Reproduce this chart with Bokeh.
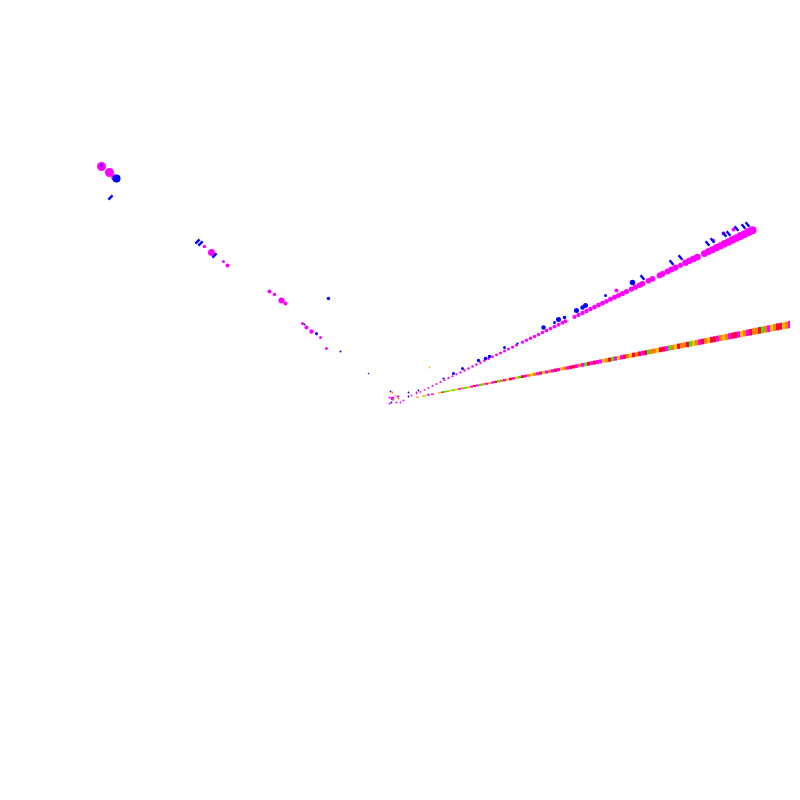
from bokeh.plotting import figure
from bokeh.models import Range1d, ColumnDataSource
from bokeh.embed import file_html
from bokeh.resources import INLINE

palette = {"M": "#ff00ff", "O": "#ff8000", "R": "#ff0040", "G": "#ffc000", "L": "#40e000", "C": "#00a0ff", "B": "#0000ff"}

# lower ray: one stripe per observation
band_x = [417,423,425,428,432,439,442,444,447,450,453,456,459,462,465,468,471,474,477,480,483,486,489,492,495,498,501,504,507,510,513,516,519,522,525,528,
          531,534,537,540,543,546,549,552,555,558,561,564,567,570,573,576,579,582,585,588,591,594,597,600,603,606,609,612,615,618,621,624,627,630,633,636,639,642,645,648,651,654,657,660,
          663,666,669,672,675,678,681,684,687,690,693,696,699,702,705,708,711,714,717,720,723,726,729,732,735,738,741,744,747,750,753,756,759,762,765,768,771,774,777,780,783,786,789]
band_y = [396.6,395.5,395.1,394.5,393.7,392.3,391.7,391.3,390.8,390.2,389.6,389.0,388.4,387.8,387.3,386.7,386.1,385.5,384.9,384.3,383.7,383.2,382.6,382.0,381.4,380.8,380.2,379.6,379.1,378.5,377.9,377.3,376.7,376.1,375.6,375.0,
          374.4,373.8,373.2,372.6,372.0,371.5,370.9,370.3,369.7,369.1,368.5,367.9,367.4,366.8,366.2,365.6,365.0,364.4,363.9,363.3,362.7,362.1,361.5,360.9,360.3,359.8,359.2,358.6,358.0,357.4,356.8,356.2,355.7,355.1,354.5,353.9,353.3,352.7,352.2,351.6,351.0,350.4,349.8,349.2,
          348.6,348.1,347.5,346.9,346.3,345.7,345.1,344.5,344.0,343.4,342.8,342.2,341.6,341.0,340.4,339.9,339.3,338.7,338.1,337.5,336.9,336.4,335.8,335.2,334.6,334.0,333.4,332.8,332.3,331.7,331.1,330.5,329.9,329.3,328.8,328.2,327.6,327.0,326.4,325.8,325.2,324.7,324.1]
band_h = [1.0,1.1,1.1,1.2,1.3,1.4,1.4,1.5,1.5,1.6,1.6,1.7,1.7,1.8,1.8,1.9,1.9,2.0,2.0,2.1,2.1,2.2,2.2,2.3,2.3,2.4,2.4,2.5,2.5,2.6,2.6,2.7,2.7,2.8,2.8,2.9,
          2.9,3.0,3.0,3.1,3.1,3.2,3.2,3.3,3.3,3.4,3.4,3.5,3.5,3.6,3.6,3.7,3.7,3.8,3.8,3.9,3.9,4.0,4.0,4.1,4.1,4.2,4.2,4.3,4.3,4.4,4.4,4.4,4.5,4.5,4.6,4.6,4.7,4.7,4.8,4.8,4.9,4.9,5.0,5.0,
          5.1,5.1,5.2,5.2,5.3,5.3,5.4,5.4,5.5,5.5,5.6,5.6,5.7,5.7,5.8,5.8,5.9,5.9,6.0,6.0,6.1,6.1,6.2,6.2,6.3,6.3,6.4,6.4,6.5,6.5,6.6,6.6,6.7,6.7,6.8,6.8,6.9,6.9,7.0,7.0,7.1,7.1,7.2]
band_cat = list("OLGMRGRLLGLGMOLGMRMLOMGMRLOMGRMGLRMO"
                "GOMRGMOMRMGOMRRMOMLRMRMMGORLMGMROGRORMRLOOGRRMLOGROORLGOMR"
                "OGRRMOGOMRRMGOMROORLOMGORRGOMLROMROGRMOORMGOCOGOORO")

# upper ray: round marks
ray_x = [416,420,424,428,432,436,440,444,448,452,456,460,464,468,472,476,480,484,488,492,496,500,504,508,512,516,522,526,530,534,538,542,546,550,554,558,562,565,574,578,582,586,590,594,598,602,606,610,614,618,622,626,631,635,639,642,648,652,659,662,667,671,675,680,685,689,693,697,704,708,712,716,720,724,728,732,736,740,744,748,752]
ray_y = [393.3,391.4,389.4,387.5,385.5,383.6,381.6,379.7,377.7,375.8,373.8,371.9,370.0,368.0,366.0,364.1,362.2,360.2,358.2,356.3,354.4,352.4,350.5,348.5,346.6,344.6,341.7,339.8,337.8,335.9,333.9,332.0,330.0,328.1,326.1,324.2,322.2,320.8,316.4,314.4,312.5,310.5,308.6,306.6,304.7,302.7,300.8,298.8,296.8,294.9,293.0,291.0,288.6,286.7,284.7,283.2,280.3,278.3,274.9,273.5,271.0,269.1,267.1,264.7,262.3,260.3,258.4,256.5,253.1,251.1,249.2,247.2,245.3,243.3,241.4,239.4,237.5,235.5,233.6,231.6,229.7]
ray_s = [1.5,1.8,1.9,1.9,2.0,2.0,2.1,2.1,2.2,2.2,2.3,2.4,2.4,2.5,2.5,2.6,2.6,2.7,2.8,2.8,2.9,3.0,3.0,3.1,3.1,3.2,3.3,3.4,3.4,3.5,3.5,3.6,3.7,3.7,3.8,3.9,4.0,4.0,4.2,4.3,4.4,4.4,4.5,4.6,4.7,4.8,4.8,4.9,5.0,5.0,5.1,5.2,5.3,5.3,5.4,5.5,5.6,5.7,5.8,5.9,6.0,6.1,6.2,5.0,6.4,6.5,6.6,6.7,6.9,7.0,7.1,7.2,7.3,7.4,7.5,7.6,7.7,7.8,7.9,8.0,8.0]

# scattered magenta marks away from the ray
spot_x = [101,109,114,204,211,223,227,269,274,281,285,302,306,311,316,320,326,616,733,723,713,389,392,397,398,389,396,400,403,411,416,428]
spot_y = [166,172,177,246,252,261,265,291,294,300,303,323,327,331,334,337,348,290,229,233,240,397,398,396,396,403,402,402,400,395,392,394]
spot_s = [9,9,6.5,3.5,7,3,4,4,3.5,6,4,3,4,4.5,2,3,3,4,4,4,3.5,2,4,2,2,2,2,1.8,2,1.8,1.8,1.8]

# blue blobs
blue_x = [101,116,328,304,316,340,418,443,453,462,478,485,489,504,517,543,554,558,564,576,582,585,605,632,390,391,408,408,368]
blue_y = [165,178,298,324,333,351,390,378,373,368,360,358,356,347,343,327,322,319,317,310,307,305,295,282,391,402,392,396,373]
blue_s = [2.5,8,3.5,2,3,2,1.8,2.2,3,3,3.5,3.5,3.5,3,2.2,4.5,3,5,3.5,5,4.5,5,3,5.5,1.8,1.8,1.8,1.8,1.5]

# blue dashes leaning one way
dash_x = [642,671,680,707,712,724,728,736,743,747]
dash_y = [277,262,257,243,240,234,233,228,226,224]
# blue dashes leaning the other way
slash_x = [110,197,200,214]
slash_y = [197,241,243,255]

# small specks in other colours
speck_x = [392,393,395,398,429]
speck_y = [392,399,395,398,367]
speck_c = ["O", "L", "G", "O", "G"]

p = figure(width=790, height=790, output_backend="svg", toolbar_location=None,
           x_range=Range1d(0, 790), y_range=Range1d(790, 0), min_border=0)
p.axis.visible = False
p.grid.visible = False
p.outline_line_color = None
p.background_fill_color = "#ffffff"

n = min(len(band_x), len(band_cat))
p.vbar(source=ColumnDataSource(dict(
    x=band_x[:n],
    t=[y - h / 2 for y, h in zip(band_y[:n], band_h[:n])],
    b=[y + h / 2 for y, h in zip(band_y[:n], band_h[:n])],
    c=[palette[k] for k in band_cat[:n]])),
    x="x", top="t", bottom="b", width=3, fill_color="c", line_color=None)

p.scatter(ray_x, ray_y, size=ray_s, color=palette["M"], line_color=None)
p.scatter(spot_x, spot_y, size=spot_s, color=palette["M"], line_color=None)
p.scatter(blue_x, blue_y, size=blue_s, color=palette["B"], line_color=None)
p.rect(dash_x, dash_y, width=6, height=2.4, angle=-0.9, color=palette["B"], line_color=None)
p.rect(slash_x, slash_y, width=6, height=2.4, angle=0.8, color=palette["B"], line_color=None)
p.scatter(speck_x, speck_y, size=1.8, color=[palette[k] for k in speck_c], line_color=None)

open("out.html", "w").write(file_html(p, INLINE))
